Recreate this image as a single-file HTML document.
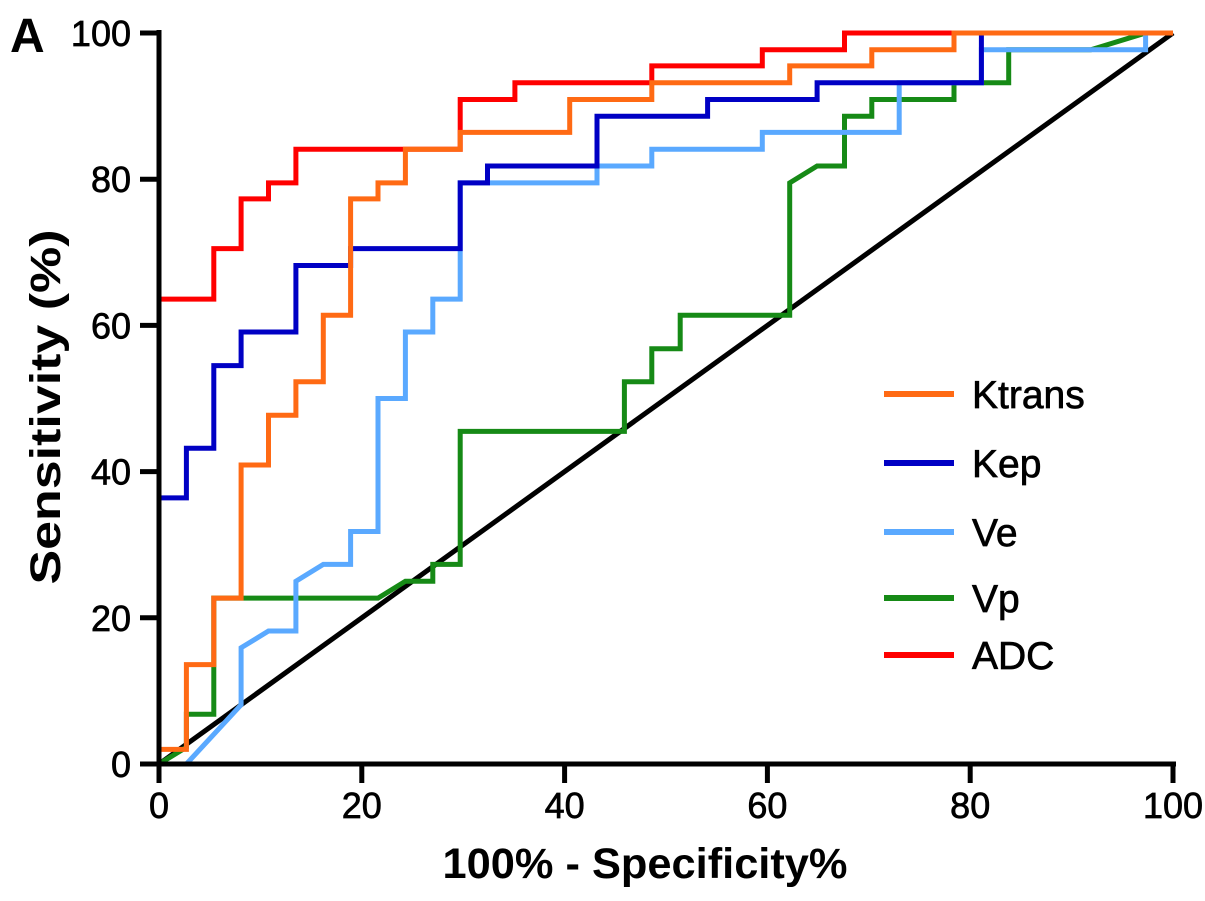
<!DOCTYPE html>
<html><head><meta charset="utf-8"><style>
html,body{margin:0;padding:0;background:#fff;}
svg{display:block;font-family:"Liberation Sans",Arial,sans-serif;}
.t{stroke:#000;stroke-width:0.7px;}
</style></head><body>
<svg id="chart" width="1205" height="901" viewBox="0 0 1205 901" xmlns="http://www.w3.org/2000/svg">
<text x="10" y="52" font-size="48" font-weight="bold">A</text>
<g id="plot"></g>
<g id="axes"></g>
<text x="645" y="878" font-size="43" font-weight="bold" text-anchor="middle" textLength="405" lengthAdjust="spacingAndGlyphs">100% - Specificity%</text>
<text transform="translate(60,407) rotate(-90)" font-size="43" font-weight="bold" text-anchor="middle" textLength="355" lengthAdjust="spacingAndGlyphs">Sensitivity (%)</text>
<g id="legend"></g>
</svg>
<script>
const xTicks = [0,20,40,60,80,100];
const yTicks = [0,20,40,60,80,100];
const seriesNames = ["Ktrans","Kep","Ve","Vp","ADC"];
const ktransX = [0,0,2.7,2.7,5.4,5.4,8.1,8.1,10.8,10.8,13.5,13.5,16.2,16.2,18.9,18.9,21.6,21.6,24.3,24.3,29.7,29.7,40.5,40.5,48.6,48.6,62.2,62.2,70.3,70.3,78.4,78.4,100];
const ktransY = [0,2,2,13.6,13.6,22.7,22.7,40.9,40.9,47.7,47.7,52.3,52.3,61.4,61.4,77.3,77.3,79.5,79.5,84.1,84.1,86.4,86.4,90.9,90.9,93.2,93.2,95.5,95.5,97.7,97.7,100,100];
const kepX = [0,0,2.7,2.7,5.4,5.4,8.1,8.1,13.5,13.5,18.9,18.9,29.7,29.7,32.4,32.4,43.2,43.2,54.1,54.1,56.8,56.8,64.9,64.9,81.1,81.1,100];
const kepY = [0,36.4,36.4,43.2,43.2,54.5,54.5,59.1,59.1,68.2,68.2,70.5,70.5,79.5,79.5,81.8,81.8,88.6,88.6,90.9,90.9,90.9,90.9,93.2,93.2,100,100];
const veX = [0,2.7,8.1,8.1,10.8,13.5,13.5,16.2,18.9,18.9,21.6,21.6,24.3,24.3,27,27,29.7,29.7,43.2,43.2,48.6,48.6,59.5,59.5,73,73,81.1,81.1,97.3,97.3,100];
const veY = [0,0,8.1,15.9,18.2,18.2,25,27.3,27.3,31.8,31.8,50,50,59.1,59.1,63.6,63.6,79.5,79.5,81.8,81.8,84.1,84.1,86.4,86.4,93.2,93.2,97.7,97.7,100,100];
const vpX = [0,2.7,2.7,5.4,5.4,8.1,21.6,24.3,27,27,29.7,29.7,45.9,45.9,48.6,48.6,51.4,51.4,62.2,62.2,64.9,67.6,67.6,70.3,70.3,78.4,78.4,83.8,83.8,91.9,97.3,100];
const vpY = [0,2.3,6.8,6.8,22.7,22.7,22.7,25,25,27.3,27.3,45.5,45.5,52.3,52.3,56.8,56.8,61.4,61.4,79.5,81.8,81.8,88.6,88.6,90.9,90.9,93.2,93.2,97.7,97.7,100,100];
const adcX = [0,0,5.4,5.4,8.1,8.1,10.8,10.8,13.5,13.5,29.7,29.7,35.1,35.1,48.6,48.6,59.5,59.5,67.6,67.6,100];
const adcY = [0,63.6,63.6,70.5,70.5,77.3,77.3,79.5,79.5,84.1,84.1,90.9,90.9,93.2,93.2,95.5,95.5,97.7,97.7,100,100];
const refX = [0,100];
const refY = [0,100];

const NS = "http://www.w3.org/2000/svg";
const X0 = 159, X1 = 1173, Y0 = 764, Y1 = 33;
function sx(v){ return X0 + (X1 - X0) * v / 100; }
function sy(v){ return Y0 - (Y0 - Y1) * v / 100; }
function mk(tag, attrs, parent){ const e = document.createElementNS(NS, tag); for (const k in attrs) e.setAttribute(k, attrs[k]); parent.appendChild(e); return e; }

const plot = document.getElementById('plot');
const axes = document.getElementById('axes');
const legend = document.getElementById('legend');

function drawLine(xs, ys, color, name, w){
  const pts = xs.map((x,i)=> sx(x).toFixed(1)+','+sy(ys[i]).toFixed(1)).join(' ');
  const p = mk('polyline', {points: pts, fill: 'none', stroke: color, 'stroke-width': w, 'stroke-linejoin': 'miter'}, plot);
  
  
}
drawLine(refX, refY, '#000', 'reference-diagonal', 5);
drawLine(vpX, vpY, '#168a16', 'curve-vp', 5);
drawLine(veX, veY, '#5aa9ff', 'curve-ve', 5);
drawLine(kepX, kepY, '#0000c4', 'curve-kep', 5);
drawLine(adcX, adcY, '#ff0000', 'curve-adc', 5);
drawLine(ktransX, ktransY, '#ff6a14', 'curve-ktrans', 5);

const xa = mk('line', {x1: X0-3, y1: Y0, x2: X1+3, y2: Y0, stroke: '#000', 'stroke-width': 5}, axes);


const ya = mk('line', {x1: X0, y1: Y0+3, x2: X0, y2: Y1-3, stroke: '#000', 'stroke-width': 5}, axes);


xTicks.forEach(v=>{
  const t = mk('line', {x1: sx(v), y1: Y0, x2: sx(v), y2: Y0+19, stroke: '#000', 'stroke-width': 5}, axes);
  
  
  const l = mk('text', {x: sx(v), y: 818, 'font-size': 36, 'text-anchor': 'middle', class: 't'}, axes);
  l.textContent = String(v);
  
  
});
yTicks.forEach(v=>{
  const t = mk('line', {x1: X0-19, y1: sy(v), x2: X0, y2: sy(v), stroke: '#000', 'stroke-width': 5}, axes);
  
  
  const l = mk('text', {x: 131, y: sy(v)+13, 'font-size': 36, 'text-anchor': 'end', class: 't'}, axes);
  l.textContent = String(v);
  
  
});

const legColors = ['#ff6a14','#0000c4','#5aa9ff','#168a16','#ff0000'];
const legY = [394,463,532,598,655];
seriesNames.forEach((n,i)=>{
  const g = mk('g', {}, legend);
  
  
  mk('line', {x1: 884, y1: legY[i], x2: 954, y2: legY[i], stroke: legColors[i], 'stroke-width': 6}, g);
  const t = mk('text', {x: 972, y: legY[i]+14, 'font-size': 39, class: 't'}, g);
  t.textContent = n;
});
</script>
</body></html>
